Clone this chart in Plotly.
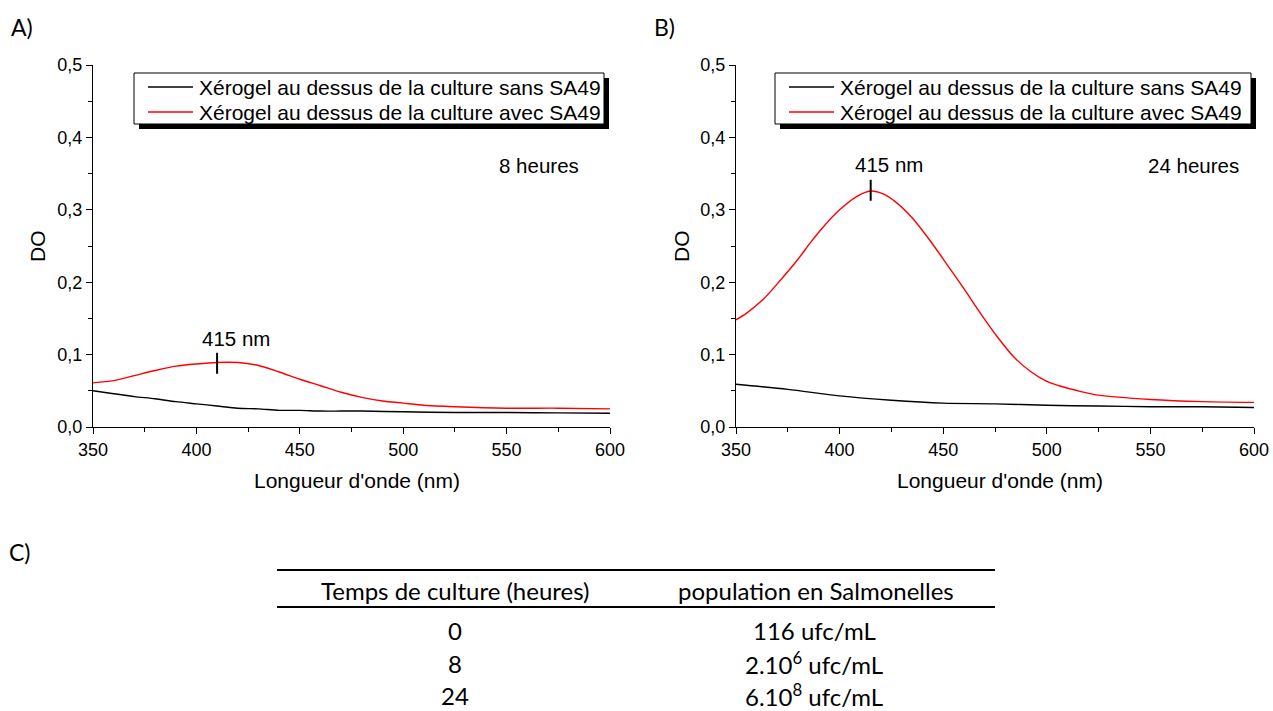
import plotly.graph_objects as go

# ---------------- data ----------------
# Panel A (8 heures)
wl_A_sans = [350, 360, 370, 380, 390, 400, 410, 420, 430, 440, 450, 460, 470, 480, 500, 525, 550, 575, 600]
do_A_sans = [0.050, 0.046, 0.042, 0.039, 0.035, 0.032, 0.029, 0.026, 0.025, 0.023, 0.023, 0.022, 0.022,
             0.022, 0.021, 0.020, 0.020, 0.0195, 0.019]
wl_A_avec = [350, 360, 370, 380, 390, 400, 410, 420, 430, 440, 450, 460, 470, 480, 490, 500, 510, 525, 550, 575, 600]
do_A_avec = [0.061, 0.064, 0.071, 0.078, 0.084, 0.087, 0.089, 0.089, 0.085, 0.076, 0.066, 0.057, 0.048,
             0.041, 0.036, 0.033, 0.030, 0.028, 0.026, 0.026, 0.025]

# Panel B (24 heures)
wl_B_sans = [350, 375, 400, 425, 450, 475, 500, 525, 550, 575, 600]
do_B_sans = [0.059, 0.052, 0.043, 0.037, 0.033, 0.032, 0.030, 0.029, 0.028, 0.028, 0.027]
wl_B_avec = [350, 355, 363, 370, 380, 386, 392, 400, 408, 415, 421, 427, 435, 443, 450, 460, 468, 476,
             484, 492, 500, 506, 515, 525, 550, 575, 600]
do_B_avec = [0.148, 0.157, 0.176, 0.198, 0.232, 0.255, 0.276, 0.300, 0.318, 0.326, 0.322, 0.311, 0.289,
             0.260, 0.232, 0.191, 0.157, 0.125, 0.097, 0.077, 0.063, 0.057, 0.050, 0.044, 0.038, 0.035, 0.034]

# peak markers
peak_A = (410, 0.088)
peak_B = (415, 0.327)
peak_label = "415 nm"

series_names = ["Xérogel au dessus de la culture sans SA49", "Xérogel au dessus de la culture avec SA49"]
series_colors = ["black", "#ff0000"]
panel_times = ["8 heures", "24 heures"]
panel_letters = ["A)", "B)", "C)"]

# Table C
table_header = ["Temps de culture (heures)", "population en Salmonelles"]
table_times = ["0", "8", "24"]
table_pops = ["116 ufc/mL", "2.10<sup>6</sup> ufc/mL", "6.10<sup>8</sup> ufc/mL"]

# ---------------- layout helpers ----------------
W, H = 1273, 711
def px(x):
    return x / W
def py(y):
    return 1 - y / H

FONT = "Liberation Sans, Arial, sans-serif"
TFONT = "Lato, Carlito, Calibri, sans-serif"

domA = [px(93), px(610)]
domB = [px(736), px(1254)]
domY = [py(427), py(65)]

fig = go.Figure()

def add_panel(wl_s, do_s, wl_a, do_a, peak, xa, ya):
    fig.add_trace(go.Scatter(x=wl_s, y=do_s, mode="lines", name=series_names[0],
                             line=dict(color=series_colors[0], width=1.4, shape="spline", smoothing=0.8),
                             xaxis=xa, yaxis=ya))
    fig.add_trace(go.Scatter(x=wl_a, y=do_a, mode="lines", name=series_names[1],
                             line=dict(color=series_colors[1], width=1.4, shape="spline", smoothing=0.8),
                             xaxis=xa, yaxis=ya))
    fig.add_trace(go.Scatter(x=[peak[0]], y=[peak[1]], mode="markers",
                             marker=dict(symbol="line-ns", size=15, line=dict(color="black", width=2)),
                             xaxis=xa, yaxis=ya, hoverinfo="skip"))

add_panel(wl_A_sans, do_A_sans, wl_A_avec, do_A_avec, peak_A, "x", "y")
add_panel(wl_B_sans, do_B_sans, wl_B_avec, do_B_avec, peak_B, "x2", "y2")

tickfont = dict(family=FONT, size=18, color="black")

def xaxis_main(dom, anchor):
    return dict(domain=dom, anchor=anchor, range=[350, 600], tick0=350, dtick=50,
                ticks="outside", ticklen=6, tickwidth=1.3, tickcolor="black",
                minor=dict(ticks="outside", ticklen=3.5, tickwidth=1.3, tickcolor="black", tick0=350, dtick=25),
                showline=True, linecolor="black", linewidth=1.3, showgrid=False, zeroline=False,
                tickfont=tickfont, fixedrange=True)

def yaxis_main(anchor):
    return dict(domain=domY, anchor=anchor, range=[0, 0.5], tick0=0, dtick=0.1, tickformat=".1f",
                ticks="outside", ticklen=6, tickwidth=1.3, tickcolor="black",
                minor=dict(ticks="outside", ticklen=3.5, tickwidth=1.3, tickcolor="black", tick0=0, dtick=0.05),
                showline=True, linecolor="black", linewidth=1.3, showgrid=False, zeroline=False,
                tickfont=tickfont, fixedrange=True)

def xaxis_top(over, anchor):
    return dict(overlaying=over, side="top", anchor=anchor, range=[350, 600], tick0=350, dtick=50,
                ticks="inside", ticklen=6, tickwidth=1.3, tickcolor="black",
                minor=dict(ticks="inside", ticklen=4, tickwidth=1.3, tickcolor="black", tick0=350, dtick=25),
                showline=True, linecolor="black", linewidth=1.3, showgrid=False, zeroline=False,
                showticklabels=False, fixedrange=True)

def yaxis_right(over, anchor):
    return dict(overlaying=over, side="right", anchor=anchor, range=[0, 0.5], tick0=0, dtick=0.1,
                ticks="inside", ticklen=6, tickwidth=1.3, tickcolor="black",
                minor=dict(ticks="inside", ticklen=4, tickwidth=1.3, tickcolor="black", tick0=0, dtick=0.05),
                showline=True, linecolor="black", linewidth=1.3, showgrid=False, zeroline=False,
                showticklabels=False, fixedrange=True)

fig.update_layout(
    width=W, height=H, margin=dict(l=0, r=0, t=0, b=0, autoexpand=False),
    paper_bgcolor="white", plot_bgcolor="white",
    separators=", ",
    xaxis=xaxis_main(domA, "y"), yaxis=yaxis_main("x"),
    xaxis2=xaxis_main(domB, "y2"), yaxis2=yaxis_main("x2"),
    xaxis3=xaxis_top("x", "y"), yaxis3=yaxis_right("y", "x"),
    xaxis4=xaxis_top("x2", "y2"), yaxis4=yaxis_right("y2", "x2"),
    showlegend=False,
)

shapes = []
ann = []
f_leg = dict(family=FONT, size=21, color="black")

# legend boxes (with drop shadow), sample lines and labels
for lx0, lx1 in [(134, 604), (775, 1251)]:
    shapes.append(dict(type="rect", xref="paper", yref="paper",
                       x0=px(lx0 + 5), x1=px(lx1 + 5), y0=py(124 + 5), y1=py(73 + 5),
                       fillcolor="black", line=dict(width=0), layer="above"))
    shapes.append(dict(type="rect", xref="paper", yref="paper",
                       x0=px(lx0), x1=px(lx1), y0=py(124), y1=py(73),
                       fillcolor="white", line=dict(color="black", width=1), layer="above"))
    for k, ly in enumerate([87, 112]):
        shapes.append(dict(type="line", xref="paper", yref="paper",
                           x0=px(lx0 + 14), x1=px(lx0 + 59), y0=py(ly), y1=py(ly),
                           line=dict(color=series_colors[k], width=1.4), layer="above"))
        ann.append(dict(text=series_names[k], x=px(lx0 + 63), y=py(ly), xref="paper", yref="paper",
                        showarrow=False, font=f_leg, xanchor="left", yanchor="middle"))

# table rules
for yy in [570, 607]:
    shapes.append(dict(type="line", xref="paper", yref="paper", x0=px(277), x1=px(995),
                       y0=py(yy), y1=py(yy), line=dict(color="black", width=2.2)))
fig.update_layout(shapes=shapes)

f_lab = dict(family=FONT, size=21, color="black")
f_txt = dict(family=FONT, size=20.5, color="black")
for xc in [(93 + 610) / 2, (736 + 1254) / 2]:
    ann.append(dict(text="Longueur d'onde (nm)", x=px(xc + 5), y=py(480), xref="paper", yref="paper",
                    showarrow=False, font=f_lab, xanchor="center", yanchor="middle"))
for xc in [37, 681]:
    ann.append(dict(text="DO", x=px(xc), y=py(246), xref="paper", yref="paper", textangle=-90,
                    showarrow=False, font=f_lab, xanchor="center", yanchor="middle"))
# time labels
ann.append(dict(text=panel_times[0], x=px(539), y=py(165), xref="paper", yref="paper",
                showarrow=False, font=f_txt, xanchor="center", yanchor="middle"))
ann.append(dict(text=panel_times[1], x=px(1193), y=py(165), xref="paper", yref="paper",
                showarrow=False, font=f_txt, xanchor="center", yanchor="middle"))
# peak labels
ann.append(dict(text=peak_label, x=peak_A[0], y=peak_A[1], xref="x", yref="y", xshift=19, yshift=25,
                showarrow=False, font=f_txt, xanchor="center", yanchor="middle"))
ann.append(dict(text=peak_label, x=peak_B[0], y=peak_B[1], xref="x2", yref="y2", xshift=18, yshift=26,
                showarrow=False, font=f_txt, xanchor="center", yanchor="middle"))
# panel letters
f_let = dict(family=TFONT, size=23, color="black")
for t, xx, yy in [(panel_letters[0], 9, 27), (panel_letters[1], 652, 27), (panel_letters[2], 7, 552)]:
    ann.append(dict(text=t, x=px(xx), y=py(yy), xref="paper", yref="paper", showarrow=False,
                    font=f_let, xanchor="left", yanchor="middle"))
# table
f_tab = dict(family=TFONT, size=24, color="black")
col_x = [455, 816]
for t, cx in zip(table_header, col_x):
    ann.append(dict(text=t, x=px(cx), y=py(590), xref="paper", yref="paper", showarrow=False,
                    font=f_tab, xanchor="center", yanchor="middle"))
for i, (tt, pp) in enumerate(zip(table_times, table_pops)):
    yy = [630, 663, 695][i]
    ann.append(dict(text=tt, x=px(col_x[0]), y=py(yy), xref="paper", yref="paper", showarrow=False,
                    font=f_tab, xanchor="center", yanchor="middle"))
    ann.append(dict(text=pp, x=px(col_x[1] - 2), y=py(yy), xref="paper", yref="paper", showarrow=False,
                    font=f_tab, xanchor="center", yanchor="middle"))
fig.update_layout(annotations=ann)

fig.write_html("out.html", config={"displayModeBar": False},
               post_script="document.body.style.margin='0';document.body.style.overflow='hidden';")
